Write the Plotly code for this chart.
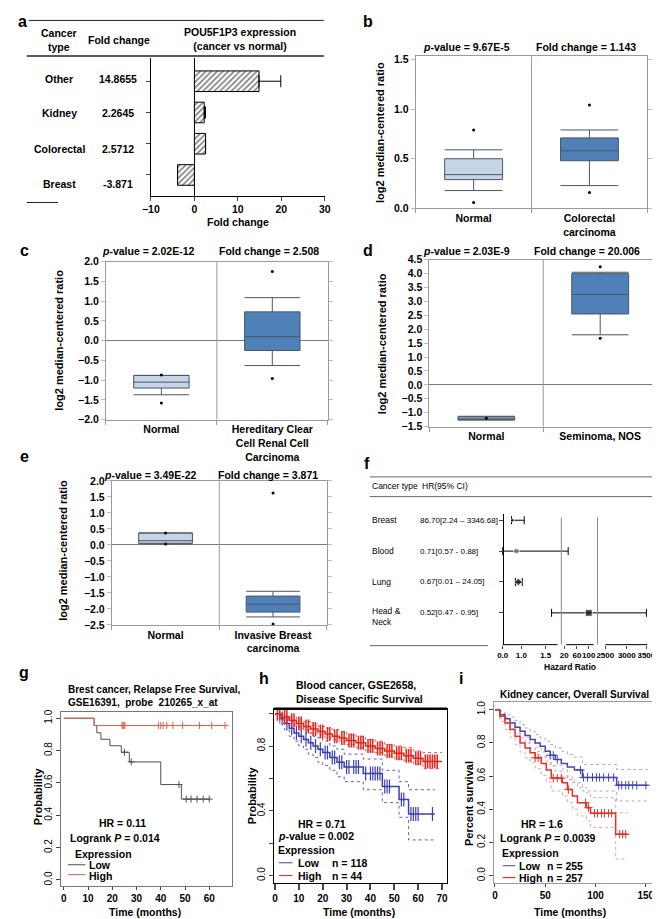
import numpy as np
import plotly.graph_objects as go

W, H = 660, 919
SANS = "Liberation Sans, Arial, Helvetica, sans-serif"
NARROW = "Liberation Sans Narrow, Arial Narrow, Liberation Sans, sans-serif"

# ======================= DATA =======================
# (a) POU5F1P3 fold change
a_types = ["Breast", "Colorectal", "Kidney", "Other"]
a_fold = [-3.871, 2.5712, 2.2645, 14.8655]
a_fold_text = ["-3.871", "2.5712", "2.2645", "14.8655"]
a_err = [0.0, 0.0, 0.3, 5.0]
a_xticks = [-10, 0, 10, 20, 30]

# (b) colorectal
b_cats = ["Normal", "Colorectal<br>carcinoma"]
b_lo = [0.18, 0.23]
b_q1 = [0.29, 0.48]
b_med = [0.34, 0.58]
b_q3 = [0.50, 0.71]
b_hi = [0.59, 0.79]
b_out = [[0.79, 0.06], [1.04, 0.16]]

# (c) kidney
c_cats = ["Normal", "Hereditary Clear<br>Cell Renal Cell<br>Carcinoma"]
c_lo = [-1.37, -0.63]
c_q1 = [-1.20, -0.25]
c_med = [-1.05, 0.10]
c_q3 = [-0.88, 0.73]
c_hi = [-0.88, 1.09]
c_out = [[-0.87, -1.58], [1.75, -0.96]]

# (d) seminoma
d_cats = ["Normal", "Seminoma, NOS"]
d_lo = [-1.27, 1.80]
d_q1 = [-1.25, 2.55]
d_med = [-1.20, 3.25]
d_q3 = [-1.15, 4.00]
d_hi = [-1.13, 4.05]
d_out = [[-1.20], [4.25, 1.68]]

# (e) breast
e_cats = ["Normal", "Invasive Breast<br>carcinoma"]
e_lo = [0.03, -2.25]
e_q1 = [0.05, -2.10]
e_med = [0.13, -1.85]
e_q3 = [0.37, -1.60]
e_hi = [0.37, -1.45]
e_out = [[0.37, 0.03], [1.62, -2.47]]

# (f) forest plot (positions on the broken axis, in display units)
f_types = ["Breast", "Blood", "Lung", "Head &<br>Neck"]
f_hr_text = ["86.70[2.24 – 3346.68]", "0.71[0.57 - 0.88]", "0.67[0.01 – 24.05]", "0.52[0.47 - 0.95]"]
f_est_pos = [14, 18, 20, 92]
f_lo_pos = [13, 4, 17, 54]
f_hi_pos = [26, 71, 24, 151]
f_tick_text = ["0.0", "1.0", "1.5", "20", "60", "100", "2500", "3000", "3500"]
f_tick_pos = [4, 23, 48, 67, 80, 92, 109, 131, 151]
f_segments = [(4, 60), (69, 97), (109, 152)]
f_breaks = [64, 101]

# (g) breast cancer RFS
g_low_t = [0, 12.5, 13.6, 15.3, 19.0, 23.7, 27.0, 40.0, 48.5, 60.0]
g_low_p = [1.0, 0.955, 0.91, 0.87, 0.83, 0.79, 0.73, 0.59, 0.50, 0.50]
g_low_cens = [25.0, 27.8, 47.5, 50.5, 52.5, 55.0, 57.5, 60.0]
g_high_t = [0, 12.5, 67.5]
g_high_p = [1.0, 0.955, 0.955]
g_high_cens = [24.0, 24.4, 24.8, 25.2, 39.0, 40.0, 41.0, 42.5, 45.0, 49.0, 56.0, 61.0, 66.5]

# (h) blood cancer DSS
h_low_t = [0, 2, 4, 6, 8, 10, 12, 14, 16, 18, 20, 23, 26, 29, 37, 45, 52, 56, 67]
h_low_p = [1.0, 0.97, 0.94, 0.91, 0.88, 0.86, 0.84, 0.82, 0.80, 0.78, 0.76, 0.73, 0.70, 0.67, 0.63, 0.55, 0.47, 0.38, 0.38]
h_low_lo = [1.0, 0.94, 0.90, 0.86, 0.83, 0.80, 0.78, 0.75, 0.73, 0.70, 0.68, 0.65, 0.61, 0.58, 0.53, 0.45, 0.36, 0.22, 0.22]
h_low_hi = [1.0, 0.99, 0.97, 0.95, 0.93, 0.91, 0.90, 0.88, 0.86, 0.85, 0.83, 0.80, 0.78, 0.75, 0.72, 0.65, 0.58, 0.53, 0.53]
h_low_cens = [3, 5, 7, 9, 11, 13, 15, 17, 19, 21, 22, 24, 25, 27, 28, 30, 31, 33, 34, 35,
              38, 40, 41, 42, 43, 44, 46, 47, 48, 53, 54, 57, 58, 59, 60, 66]
h_high_t = [0, 3, 6, 9, 12, 15, 18, 21, 24, 27, 30, 34, 38, 42, 46, 50, 54, 58, 62, 70]
h_high_p = [1.0, 0.98, 0.96, 0.94, 0.92, 0.905, 0.89, 0.875, 0.86, 0.85, 0.835, 0.82, 0.80, 0.785, 0.77, 0.755, 0.74, 0.725, 0.705, 0.705]
h_high_lo = [1.0, 0.96, 0.94, 0.92, 0.90, 0.88, 0.87, 0.85, 0.84, 0.83, 0.81, 0.79, 0.77, 0.76, 0.74, 0.72, 0.71, 0.69, 0.66, 0.66]
h_high_hi = [1.0, 0.99, 0.98, 0.96, 0.95, 0.93, 0.92, 0.91, 0.90, 0.89, 0.87, 0.86, 0.84, 0.83, 0.81, 0.80, 0.79, 0.77, 0.76, 0.76]
h_high_cens = [1, 2, 4, 5, 7, 8, 10, 11, 13, 14, 16, 17, 19, 20, 22, 23, 25, 26, 28, 29, 31, 32, 33,
               35, 36, 37, 39, 40, 41, 43, 44, 45, 47, 48, 49, 51, 52, 53, 55, 56, 57, 59, 60, 61,
               63, 64, 65, 66, 67, 68]

# (i) kidney cancer OS
i_low_t = [0, 5, 10, 15, 20, 25, 30, 35, 40, 45, 50, 55, 60, 66, 72, 79, 87, 121, 152]
i_low_p = [1.0, 0.97, 0.945, 0.92, 0.895, 0.87, 0.845, 0.82, 0.80, 0.78, 0.75, 0.725, 0.70, 0.676, 0.655, 0.637, 0.592, 0.545, 0.545]
i_low_hi = [1.0, 0.99, 0.97, 0.955, 0.935, 0.91, 0.89, 0.87, 0.85, 0.83, 0.81, 0.79, 0.77, 0.75, 0.73, 0.715, 0.67, 0.64, 0.64]
i_low_lo = [1.0, 0.95, 0.92, 0.885, 0.855, 0.83, 0.80, 0.77, 0.75, 0.72, 0.69, 0.66, 0.63, 0.60, 0.58, 0.56, 0.51, 0.45, 0.45]
i_low_cens = [55, 58, 62, 85, 88, 92, 97, 101, 104, 108, 113, 118, 123, 126, 130, 133, 137, 141, 150]
i_high_t = [0, 5, 10, 15, 20, 25, 30, 35, 40, 46, 51, 56, 67, 72, 77, 82, 91, 95, 120, 132]
i_high_p = [1.0, 0.96, 0.92, 0.88, 0.84, 0.80, 0.77, 0.74, 0.71, 0.676, 0.637, 0.588, 0.56, 0.52, 0.48, 0.44, 0.41, 0.376, 0.25, 0.25]
i_high_hi = [1.0, 0.98, 0.955, 0.925, 0.89, 0.855, 0.83, 0.80, 0.775, 0.745, 0.71, 0.665, 0.64, 0.60, 0.56, 0.53, 0.50, 0.47, 0.38, 0.38]
i_high_lo = [1.0, 0.93, 0.88, 0.835, 0.79, 0.745, 0.71, 0.68, 0.645, 0.605, 0.565, 0.51, 0.48, 0.44, 0.40, 0.36, 0.33, 0.29, 0.10, 0.10]
i_high_cens = [40, 43, 58, 62, 66, 73, 90, 93, 99, 102, 106, 109, 113, 116, 124, 127, 130]

# ======================= HELPERS =======================
def PX(x): return x / W
def PY(y): return 1 - y / H
def xd(a, b): return [a / W, b / W]
def yd(top, bot): return [1 - bot / H, 1 - top / H]

annotations, shapes = [], []
fig = go.Figure()


def T(text, x, y, size=10.5, bold=True, xa="center", ya="middle", angle=0,
      family=SANS, color="black", xref="paper", yref="paper", align="center", yshift=0):
    annotations.append(dict(
        text=text, x=PX(x) if xref == "paper" else x, y=PY(y) if yref == "paper" else y,
        xref=xref, yref=yref, xanchor=xa, yanchor=ya, showarrow=False, textangle=angle,
        align=align, yshift=yshift,
        font=dict(size=size, color=color, family=family, weight="bold" if bold else "normal")))


def LN(x0, y0, x1, y1, color="black", width=1, dash=None):
    shapes.append(dict(type="line", xref="paper", yref="paper", x0=PX(x0), y0=PY(y0),
                       x1=PX(x1), y1=PY(y1), line=dict(color=color, width=width, dash=dash)))


TF = dict(family=SANS, size=10.5, color="black", weight="bold")
TFS = dict(family=SANS, size=10, color="black", weight="bold")
layout_axes = {}

# ======================= (a) =======================
fig.add_trace(go.Bar(
    x=a_fold, y=a_types, orientation="h", width=0.66, xaxis="x", yaxis="y", showlegend=False,
    marker=dict(color="white", line=dict(color="black", width=1),
                pattern=dict(shape="/", fgcolor="black", bgcolor="white", size=4, solidity=0.4)),
    error_x=dict(type="data", symmetric=False, array=a_err, arrayminus=[0] * len(a_err),
                 color="black", thickness=1, width=6)))
layout_axes["xaxis"] = dict(domain=xd(137, 315), range=[-10, 30], anchor="y", showline=True,
                            linecolor="black", ticks="outside", ticklen=4, tickvals=a_xticks,
                            tickfont=TF, showgrid=False, zeroline=True, zerolinecolor="black",
                            zerolinewidth=1)
layout_axes["yaxis"] = dict(domain=yd(45, 184), range=[-0.66, 3.73], anchor="x", type="category",
                            categoryorder="array", categoryarray=a_types, showline=True,
                            linecolor="black", ticks="outside", ticklen=4, showticklabels=False,
                            showgrid=False)
T("a", 6, 8, size=16)
LN(12, 6.5, 314, 6.5, "#222", 1)
LN(10, 42.5, 314, 42.5, "#222", 1.5)
LN(10, 191, 42, 191, "#222", 1)
T("Cancer<br>type", 43, 26)
T("Fold change", 104, 26)
T("POU5F1P3 expression<br>(cancer vs normal)", 228, 25)
a_row_y = [172, 137, 100, 66]
for name, ftxt, yy in zip(a_types, a_fold_text, a_row_y):
    T(name, 43, yy)
    T(ftxt, 103, yy)
T("Fold change", 226, 211)

# ======================= box panels =======================
BOXFILL = ["#c6d4e7", "#4f80b8"]
BOXLINE = "#4a5666"


def box_panel(n, cats, lo, q1, med, q3, hi, outs, xdom, ydom, yrange, zeroline):
    xa, ya = f"x{n}", f"y{n}"
    for i, c in enumerate(cats):
        fig.add_trace(go.Box(x=[c], lowerfence=[lo[i]], q1=[q1[i]], median=[med[i]], q3=[q3[i]],
                             upperfence=[hi[i]], fillcolor=BOXFILL[i],
                             line=dict(color=BOXLINE, width=1), width=0.5, whiskerwidth=1,
                             boxpoints=False, xaxis=xa, yaxis=ya, showlegend=False,
                             hoverinfo="skip"))
        fig.add_trace(go.Scatter(x=[c] * len(outs[i]), y=outs[i], mode="markers",
                                 marker=dict(size=3, color="black"), xaxis=xa, yaxis=ya,
                                 showlegend=False, hoverinfo="skip"))
    layout_axes[f"xaxis{n}"] = dict(domain=xdom, anchor=ya, type="category", categoryorder="array",
                                    categoryarray=cats, range=[-0.5, 1.5], showline=True,
                                    linecolor="#9a9a9a", mirror=True, ticks="outside",
                                    tickson="boundaries", ticklen=4, tickcolor="#9a9a9a",
                                    tickfont=TF, showgrid=False, zeroline=False)
    layout_axes[f"yaxis{n}"] = dict(domain=ydom, anchor=xa, range=yrange, dtick=0.5, tick0=0,
                                    tickformat=".1f", showline=True, linecolor="#9a9a9a",
                                    mirror="ticks", ticks="outside", ticklen=4,
                                    tickcolor="#bdbdbd", tickfont=TF, showgrid=False,
                                    zeroline=zeroline, zerolinecolor="#7a7a7a", zerolinewidth=1)
    shapes.append(dict(type="line", xref=xa, yref=f"{ya} domain", x0=0.5, x1=0.5, y0=0, y1=1,
                       line=dict(color="#9a9a9a", width=1)))


# (b)
box_panel(2, b_cats, b_lo, b_q1, b_med, b_q3, b_hi, b_out, xd(408, 645), yd(43, 197), [0, 1.53], False)
T("b", 359, 8, size=16)
T("<i>p</i>-value = 9.67E-5", 460, 33)
T("Fold change = 1.143", 582, 33)
T("log2 median-centered ratio", 372, 120, size=11, angle=-90)

# (c)
box_panel(3, c_cats, c_lo, c_q1, c_med, c_q3, c_hi, c_out, xd(91, 318), yd(251, 411), [-2, 2], True)
T("c", 8, 240, size=16)
T("<i>p</i>-value = 2.02E-12", 135, 240)
T("Fold change = 2.508", 258, 240)
T("log2 median-centered ratio", 43, 331, size=11, angle=-90)

# (d)
box_panel(4, d_cats, d_lo, d_q1, d_med, d_q3, d_hi, d_out, xd(422, 655), yd(249, 418), [-1.5, 4.5], True)
T("d", 359, 240, size=16)
T("<i>p</i>-value = 2.03E-9", 460, 240)
T("Fold change = 20.006", 583, 240)
T("log2 median-centered ratio", 373, 334, size=11, angle=-90)

# (e)
box_panel(5, e_cats, e_lo, e_q1, e_med, e_q3, e_hi, e_out, xd(97, 317), yd(473, 619), [-2.5, 2.0], True)
T("e", 8, 448, size=16)
T("<i>p</i>-value = 3.49E-22", 137, 467)
T("Fold change = 3.871", 257, 467)
T("log2 median-centered ratio", 47, 543, size=11, angle=-90)

# ======================= (f) forest =======================
rows = list(range(len(f_types)))
fig.add_trace(go.Scatter(
    x=f_est_pos, y=rows, mode="markers", xaxis="x6", yaxis="y6", showlegend=False,
    marker=dict(symbol=["triangle-left", "circle", "diamond", "square"], size=[5, 6, 6, 7],
                color=["black", "#777777", "black", "black"]),
    error_x=dict(type="data", symmetric=False,
                 array=[h - e for h, e in zip(f_hi_pos, f_est_pos)],
                 arrayminus=[e - l for e, l in zip(f_est_pos, f_lo_pos)],
                 color="black", thickness=1, width=4)))
layout_axes["xaxis6"] = dict(domain=xd(490, 650), range=[-3, 157], anchor="y6", showline=False,
                             ticks="outside", ticklen=3, tickvals=f_tick_pos, ticktext=f_tick_text,
                             tickangle=0,
                             tickfont=dict(family=NARROW, size=8, color="black", weight="bold"),
                             showgrid=False, zeroline=False)
layout_axes["yaxis6"] = dict(domain=yd(507, 639), range=[4.03, -0.19], anchor="free",
                             position=PX(497), showline=True, linecolor="black", ticks="outside",
                             ticklen=4, tickvals=rows, showticklabels=False, showgrid=False,
                             zeroline=False)
for s0, s1 in f_segments:
    shapes.append(dict(type="line", xref="x6", yref="y6 domain", x0=s0, x1=s1, y0=0, y1=0,
                       line=dict(color="black", width=1)))
for b in f_breaks:
    shapes.append(dict(type="line", xref="x6", yref="paper", x0=b, x1=b, y0=PY(510), y1=PY(639),
                       line=dict(color="#8a8a8a", width=1)))
T("f", 358, 455, size=16)
LN(361, 469, 655, 469, "#666", 1)
LN(361, 489, 655, 489, "#666", 1)
LN(361, 640, 482, 640, "#666", 1)
T("Cancer type", 361, 478, size=8.5, bold=False, xa="left", family=NARROW)
T("HR(95% CI)", 412, 478, size=8.5, bold=False, xa="left", family=NARROW)
for r, name, hr in zip(rows, f_types, f_hr_text):
    T(name, 0, r, size=8.5, bold=False, xa="left", family=NARROW, yref="y6",
      align="left", yshift=(-4 if "<br>" in name else 0))
    annotations[-1]["x"] = PX(361)
    T(hr, 0, r, size=8, bold=False, xa="left", family=NARROW, yref="y6")
    annotations[-1]["x"] = PX(410)
T("Hazard Ratio", 566, 662, size=8.5, bold=True, family=NARROW)


# ======================= KM helpers =======================
def step_at(ts, ps, t):
    idx = np.searchsorted(np.array(ts), t, side="right") - 1
    return np.array(ps)[idx]


def km(n, ts, ps, color, width, cens, symbol, msize, mwidth, dash=None):
    fig.add_trace(go.Scatter(x=ts, y=ps, mode="lines", line=dict(shape="hv", color=color,
                                                                  width=width, dash=dash),
                             xaxis=f"x{n}", yaxis=f"y{n}", showlegend=False, hoverinfo="skip"))
    if cens is not None:
        fig.add_trace(go.Scatter(x=cens, y=step_at(ts, ps, cens), mode="markers",
                                 marker=dict(symbol=symbol, size=msize, color=color,
                                             line=dict(color=color, width=mwidth)),
                                 xaxis=f"x{n}", yaxis=f"y{n}", showlegend=False,
                                 hoverinfo="skip"))


def km_axes(n, xdom, ydom, xrange, yrange, xticks, yticktext, linecolor, xticklen=3):
    layout_axes[f"xaxis{n}"] = dict(domain=xdom, anchor=f"y{n}", range=xrange, tickvals=xticks,
                                    showline=True, mirror=True, linecolor=linecolor,
                                    ticks="outside", ticklen=xticklen, tickfont=TFS,
                                    showgrid=False, zeroline=False)
    layout_axes[f"yaxis{n}"] = dict(domain=ydom, anchor=f"x{n}", range=yrange,
                                    tickvals=[0, 0.2, 0.4, 0.6, 0.8, 1.0], ticktext=yticktext,
                                    tickangle=-90, showline=True, mirror=True,
                                    linecolor=linecolor, ticks="outside", ticklen=4,
                                    tickfont=dict(family=SANS, size=10, color="black"),
                                    showgrid=False, zeroline=False)


YT_ALL = ["0.0", "0.2", "0.4", "0.6", "0.8", "1.0"]

# ======================= (g) =======================
G_LOW, G_HIGH = "#505050", "#e0604a"
km(7, g_low_t, g_low_p, G_LOW, 1, g_low_cens, "cross-thin", 5, 1)
km(7, g_high_t, g_high_p, G_HIGH, 1, g_high_cens, "cross-thin", 5, 1)
km_axes(7, xd(45, 220), yd(707, 884), [-1.2, 69.4], [-0.04, 1.04],
        [0, 10, 20, 30, 40, 50, 60], YT_ALL, "#777777")
T("g", 7, 667, size=16)
T("Brest cancer, Relapse Free Survival,<br>GSE16391,  probe  210265_x_at", 50, 691,
  size=10, xa="left", align="left")
T("Probability", 21, 793, size=11, angle=-90)
T("Time (months)", 131, 910, size=10.5)
T("HR = 0.11", 108, 820)
T("Logrank <i>P</i> = 0.014", 52, 835, xa="left")
T("Expression", 57, 851, xa="left")
LN(52, 862, 70, 862, G_LOW, 1)
T("Low", 72, 862, xa="left")
LN(52, 872, 70, 872, G_HIGH, 1)
T("High", 72, 873, xa="left")

# ======================= (h) =======================
H_BLUE, H_RED = "#3b3fb3", "#e8241a"
km(8, h_low_t, h_low_lo, "#5a5fc8", 1, None, None, 0, 0, dash="dot")
km(8, h_low_t, h_low_hi, "#5a5fc8", 1, None, None, 0, 0, dash="dot")
km(8, h_high_t, h_high_lo, "#ee5a50", 1, None, None, 0, 0, dash="dot")
km(8, h_high_t, h_high_hi, "#ee5a50", 1, None, None, 0, 0, dash="dot")
km(8, h_low_t, h_low_p, H_BLUE, 1.5, h_low_cens, "line-ns", 10, 1.2)
km(8, h_high_t, h_high_p, H_RED, 1.5, h_high_cens, "line-ns", 10, 1.5)
km_axes(8, xd(263, 440), yd(704, 880), [-0.4, 72.1], [-0.043, 1.03],
        [0, 10, 20, 30, 40, 50, 60, 70], ["0.0", "", "0.4", "", "0.8", ""], "black", xticklen=6)
layout_axes["xaxis8"]["tickwidth"] = 1.5
shapes.append(dict(type="line", xref="paper", yref="paper", x0=PX(263), x1=PX(440),
                   y0=PY(704), y1=PY(704), line=dict(color="black", width=2.5)))
T("h", 253, 673, size=16)
T("Blood cancer, GSE2658,<br>Disease Specific Survival", 283, 687, size=10.5, xa="left",
  align="left")
T("Probability", 240, 792, size=11, angle=-90)
T("Time (months)", 350, 910, size=10.5)
T("HR = 0.71", 312, 821)
T("<i>p</i>-value = 0.002", 265, 833, xa="left")
T("Expression", 265, 847, xa="left")
LN(268, 860, 282, 860, H_BLUE, 1)
T("Low", 285, 860, xa="left")
T("n = 118", 320, 860, xa="left")
LN(268, 873, 282, 873, H_RED, 1)
T("High", 285, 873, xa="left")
T("n = 44", 320, 873, xa="left")

# ======================= (i) =======================
I_BLUE, I_RED = "#4549a8", "#e3322a"
km(9, i_low_t, i_low_hi, "#8f92d2", 0.8, None, None, 0, 0, dash="dot")
km(9, i_low_t, i_low_lo, "#8f92d2", 0.8, None, None, 0, 0, dash="dot")
km(9, i_high_t, i_high_hi, "#f08a82", 0.8, None, None, 0, 0, dash="dot")
km(9, i_high_t, i_high_lo, "#f08a82", 0.8, None, None, 0, 0, dash="dot")
km(9, i_low_t, i_low_p, I_BLUE, 1.5, i_low_cens, "cross-thin", 6, 1)
km(9, i_high_t, i_high_p, I_RED, 1.5, i_high_cens, "cross-thin", 6, 1)
km_axes(9, xd(488, 652), yd(697, 880), [-1, 158.3], [-0.041, 1.047],
        [0, 50, 100, 150], YT_ALL, "#9a9a9a")
T("i", 454, 673, size=16)
T("Kidney cancer, Overall Survival", 570, 690, size=10)
T("Percent survival", 462, 800, size=11, angle=-90)
T("Time (months)", 566, 910, size=10.5)
T("HR = 1.6", 537, 821)
T("Logrank <i>P</i> = 0.0039", 492, 835, xa="left")
T("Expression", 494, 850, xa="left")
LN(497, 863, 510, 863, I_BLUE, 1)
T("Low", 512, 863, xa="left")
T("n = 255", 540, 863, xa="left")
LN(497, 875, 510, 875, I_RED, 1.2)
T("High", 512, 875, xa="left")
T("n = 257", 540, 875, xa="left")

# ======================= layout =======================
fig.update_layout(
    width=W, height=H, margin=dict(l=0, r=0, t=0, b=0), autosize=False,
    paper_bgcolor="white", plot_bgcolor="white", showlegend=False,
    font=dict(family=SANS, size=10.5, color="black"),
    annotations=annotations, shapes=shapes, **layout_axes)

fig.write_html("out.html", config={"displayModeBar": False})
